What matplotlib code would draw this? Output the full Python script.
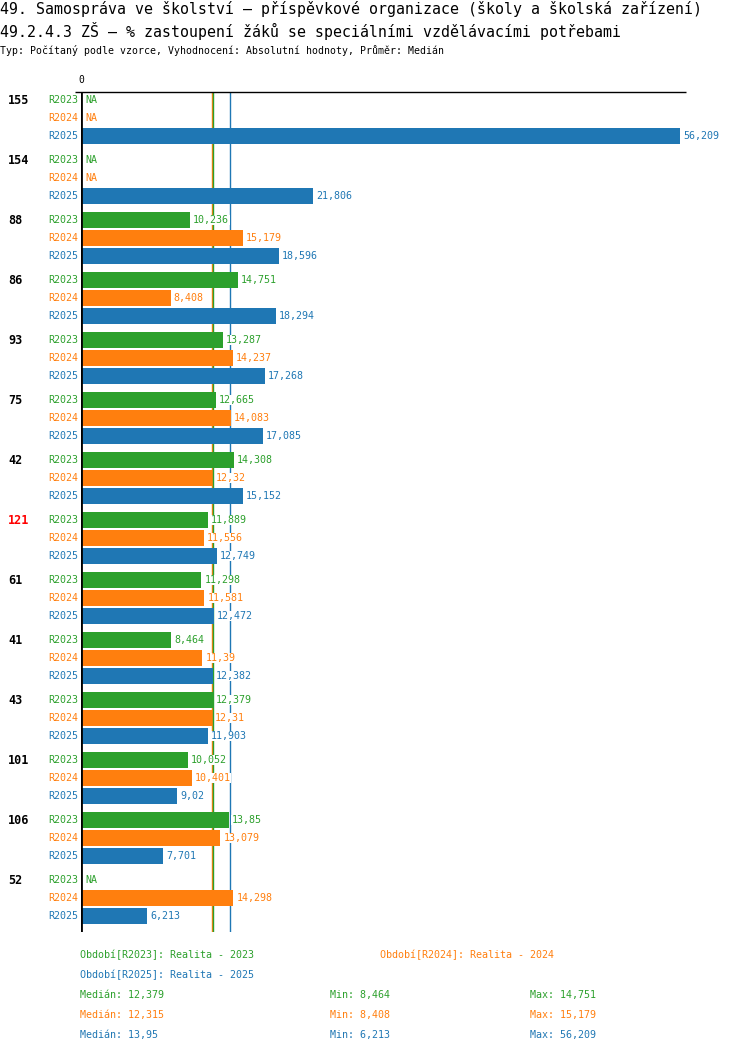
import numpy as np
import matplotlib
matplotlib.use('Agg')
from matplotlib import pyplot as plt

groups = ['155', '154', '88', '86', '93', '75', '42', '121', '61', '41', '43', '101', '106', '52']
series = ['R2023', 'R2024', 'R2025']
nan = np.nan
v2023 = [nan, nan, 10.236, 14.751, 13.287, 12.665, 14.308, 11.889, 11.298, 8.464, 12.379, 10.052, 13.85, nan]
v2024 = [nan, nan, 15.179, 8.408, 14.237, 14.083, 12.32, 11.556, 11.581, 11.39, 12.31, 10.401, 13.079, 14.298]
v2025 = [56.209, 21.806, 18.596, 18.294, 17.268, 17.085, 15.152, 12.749, 12.472, 12.382, 11.903, 9.02, 7.701, 6.213]
medians = [12.379, 12.315, 13.95]
mins = [8.464, 8.408, 6.213]
maxs = [14.751, 15.179, 56.209]
periods = ['Období[R2023]: Realita - 2023', 'Období[R2024]: Realita - 2024', 'Období[R2025]: Realita - 2025']
highlight = '121'

colors = ['#2ca02c', '#ff7f0e', '#1f77b4']
W, H = 750, 1052
FONT = 'DejaVu Sans Mono'


def fmt(v):
    s = ('%.3f' % v).rstrip('0').rstrip('.')
    return s.replace('.', ',')


def fy(py):
    return 1 - py / H


def MakePlot():
    fig = plt.figure(figsize=(W / 100, H / 100), dpi=100)
    plt.rcParams['font.family'] = FONT

    # plot area in pixels: x 81..686, y 92..932
    ax = fig.add_axes([81 / W, 1 - 932 / H, (686 - 81) / W, (932 - 92) / H])
    ax.set_xlim(0, 56.75)
    ax.set_ylim(840, 0)
    ax.axis('off')

    values = [v2023, v2024, v2025]
    for gi, g in enumerate(groups):
        y0 = gi * 60 + 8
        ax.annotate(g, xy=(0, y0), xytext=(-73, 0), textcoords='offset pixels',
                    ha='left', va='center', fontsize=8.5, fontweight='bold',
                    color='red' if g == highlight else 'black', family=FONT)
        for si, s in enumerate(series):
            y = y0 + si * 18
            v = values[si][gi]
            ax.annotate(s, xy=(0, y), xytext=(-3, 0), textcoords='offset pixels',
                        ha='right', va='center', fontsize=7.2, color=colors[si], family=FONT)
            if np.isnan(v):
                ax.annotate('NA', xy=(0, y), xytext=(4, 0), textcoords='offset pixels',
                            ha='left', va='center', fontsize=7.2, color=colors[si],
                            family=FONT, zorder=5,
                            bbox=dict(facecolor='white', edgecolor='none', pad=0.3))
                continue
            ax.barh(y, v, height=16, color=colors[si], zorder=3)
            ax.annotate(fmt(v), xy=(v, y), xytext=(3, 0), textcoords='offset pixels',
                        ha='left', va='center', fontsize=7.2, color=colors[si],
                        family=FONT, zorder=5,
                        bbox=dict(facecolor='white', edgecolor='none', pad=0.3))

    # median lines, orange first so green sits on top
    for si in [1, 0, 2]:
        ax.vlines(medians[si], 0, 840, color=colors[si], lw=1, zorder=2)

    ax.vlines(0, 0, 840, color='black', lw=2, zorder=6)
    ax.hlines(0, -0.56, 56.75, color='black', lw=1, clip_on=False, zorder=6)
    ax.annotate('0', xy=(0, 0), xytext=(0, 12), textcoords='offset pixels',
                ha='center', va='center', fontsize=7, family=FONT)

    fig.text(0.0, fy(9), '49. Samospráva ve školství – příspěvkové organizace (školy a školská zařízení)',
             fontsize=10.75, va='center', ha='left', family=FONT)
    fig.text(0.0, fy(31), '49.2.4.3 ZŠ – % zastoupení žáků se speciálními vzdělávacími potřebami',
             fontsize=10.75, va='center', ha='left', family=FONT)
    fig.text(0.0, fy(51), 'Typ: Počítaný podle vzorce, Vyhodnocení: Absolutní hodnoty, Průměr: Medián',
             fontsize=7.1, va='center', ha='left', family=FONT)

    fig.text(80 / W, fy(955), periods[0], color=colors[0], fontsize=7.2, va='center', family=FONT)
    fig.text(380 / W, fy(955), periods[1], color=colors[1], fontsize=7.2, va='center', family=FONT)
    fig.text(80 / W, fy(975), periods[2], color=colors[2], fontsize=7.2, va='center', family=FONT)
    for si in range(3):
        y = fy(995 + si * 20)
        fig.text(80 / W, y, 'Medián: ' + fmt(medians[si]), color=colors[si], fontsize=7.2, va='center', family=FONT)
        fig.text(330 / W, y, 'Min: ' + fmt(mins[si]), color=colors[si], fontsize=7.2, va='center', family=FONT)
        fig.text(530 / W, y, 'Max: ' + fmt(maxs[si]), color=colors[si], fontsize=7.2, va='center', family=FONT)

    fig.savefig('out.png', dpi=100, facecolor='white')


if __name__ == '__main__':
    MakePlot()
